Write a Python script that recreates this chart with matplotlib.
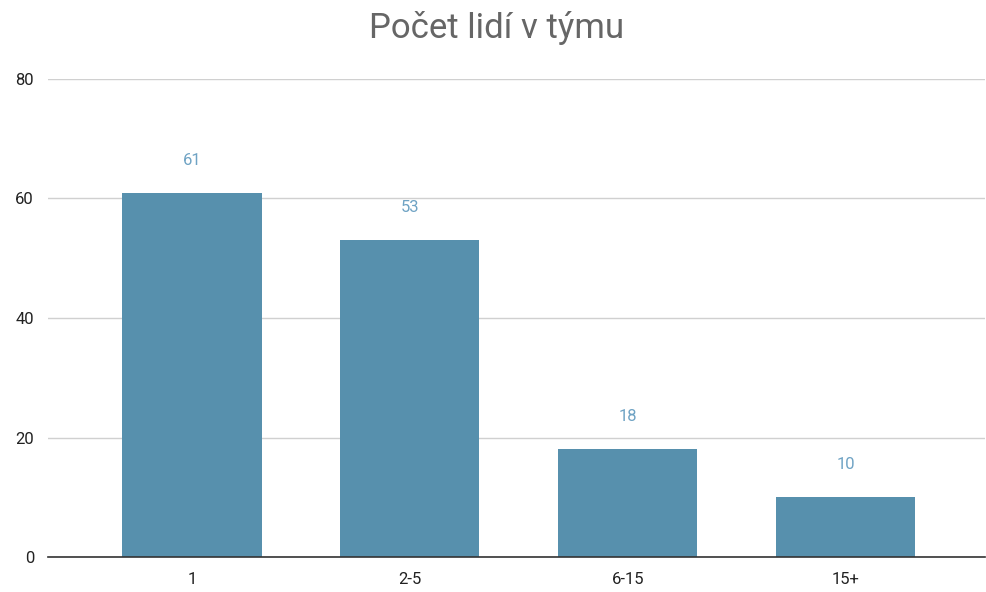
import matplotlib.pyplot as plt

# data
kategorie = ['1', '2-5', '6-15', '15+']
pocty = [61, 53, 18, 10]
y_ticks = [0, 20, 40, 60, 80]

plt.rcParams['font.family'] = ['Roboto', 'DejaVu Sans']

fig = plt.figure(figsize=(9.87, 5.92), dpi=100)
ax = fig.add_axes([0.0486, 0.059, 0.9494, 0.8076])

x = range(len(kategorie))
ax.bar(x, pocty, width=0.64, color='#5790ad', zorder=3)

for xi, v in zip(x, pocty):
    ax.annotate(str(v), (xi, v), xytext=(0, 18), textcoords='offset points',
                ha='center', va='bottom', fontsize=12, color='#6fa3c4')

ax.set_xlim(-0.66, 3.64)
ax.set_ylim(0, 80)
ax.set_yticks(y_ticks)
ax.set_xticks(list(x))
ax.set_xticklabels(kategorie)
ax.tick_params(length=0, labelsize=12, labelcolor='#222222')
ax.tick_params(axis='x', pad=11)
ax.tick_params(axis='y', pad=10)

ax.grid(axis='y', color='#d0d0d0', linewidth=1, zorder=0)
for s in ['top', 'right', 'left']:
    ax.spines[s].set_visible(False)
ax.spines['bottom'].set_color('#333333')
ax.spines['bottom'].set_linewidth(1.2)
ax.spines['bottom'].set_zorder(4)

fig.text(0.503, 0.953, 'Počet lidí v týmu', ha='center', va='center',
         fontsize=25, color='#666666')

fig.savefig('out.png', dpi=100)
